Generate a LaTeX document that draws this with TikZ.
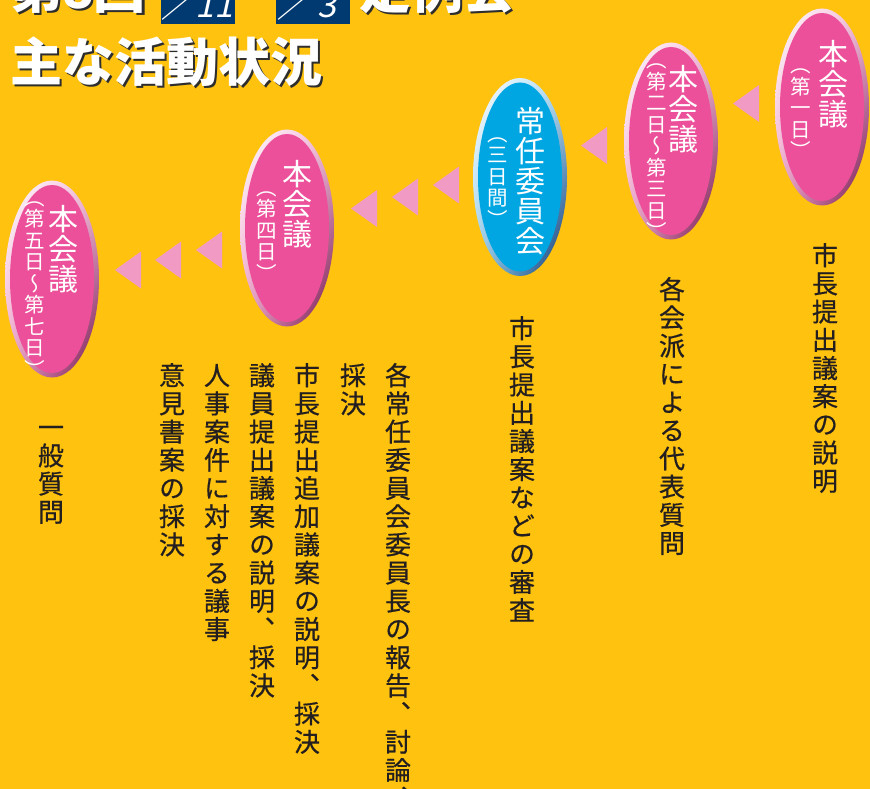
\documentclass[tikz,border=0pt]{standalone}
\usepackage{fontspec}
\usetikzlibrary{shadings}
\setmainfont{Noto Sans CJK JP}
\newfontfamily\jp{Noto Sans CJK JP}
\newfontfamily\jpv[RawFeature={+vert}]{Noto Sans CJK JP}
\newfontfamily\jpvb[RawFeature={+vert},FakeBold=0.6]{Noto Sans CJK JP}
\newfontfamily\jpsl[FakeSlant=0.22]{Noto Sans CJK JP}
\makeatletter
\newcommand\vcol[2]{\vbox{\baselineskip=#1\relax\lineskiplimit=-\maxdimen\lineskip=0pt
  \@tfor\vch:=#2\do{\hbox to 1em{\hss\vrule width 0pt height .88em depth .12em\vch\hss}}}}
\makeatother
\definecolor{bg}{RGB}{255,194,14}
\definecolor{txt}{RGB}{35,31,32}
\definecolor{navy}{RGB}{0,58,112}
\definecolor{shadowc}{RGB}{45,45,45}
\definecolor{pinkfill}{RGB}{236,80,154}
\definecolor{pinkhi}{RGB}{245,185,218}
\definecolor{pinklo}{RGB}{242,165,205}
\definecolor{pinkdk}{RGB}{115,20,75}
\definecolor{bluefill}{RGB}{0,166,226}
\definecolor{bluehi}{RGB}{175,222,246}
\definecolor{bluelo}{RGB}{150,210,240}
\definecolor{bluedk}{RGB}{10,55,115}
\definecolor{tric}{RGB}{241,155,196}
\tikzset{
  body/.style={inner sep=0pt, anchor=north, text=txt, font=\jpvb\fontsize{26}{26}\selectfont},
  big/.style={inner sep=0pt, anchor=north, text=white, font=\jpv\fontsize{30}{30}\selectfont},
  small/.style={inner sep=0pt, anchor=north, text=white, font=\jpv\fontsize{20.5}{20.5}\selectfont},
  title/.style={inner sep=0pt, anchor=base west, text=white, font=\jp\bfseries\fontsize{52}{52}\selectfont},
  titleshadow/.style={title, text=shadowc},
  datetext/.style={inner sep=0pt, anchor=base west, text=white, font=\jpsl\fontsize{34}{34}\selectfont},
  arrowtri/.style={fill=tric},
}
\newcommand\pinkoval[2]{%
  \shade[upper left=white, upper right=pinkhi, lower left=pinklo, lower right=pinkdk]
    (#1,#2) ellipse [x radius=47pt, y radius=98.5pt];
  \fill[pinkfill] (#1,#2) ellipse [x radius=42pt, y radius=94pt];}
\newcommand\blueoval[2]{%
  \shade[upper left=white, upper right=bluehi, lower left=bluelo, lower right=bluedk]
    (#1,#2) ellipse [x radius=47pt, y radius=99pt];
  \fill[bluefill] (#1,#2) ellipse [x radius=42pt, y radius=94.5pt];}
\newcommand\tri[2]{\fill[arrowtri] (#1,#2) -- ++(26,-18.5) -- ++(0,37) -- cycle;}
\begin{document}
\begin{tikzpicture}[x=1pt,y=-1pt]
\useasboundingbox (0,0) rectangle (870,789);
\clip (0,0) rectangle (870,789);
\fill[bg] (0,0) rectangle (870,789);

% title
\node[titleshadow] at (12.5,11) {第8回};
\node[title] (t1) at (10,8.5) {第8回};
\fill[navy] (161,-5) rectangle (235,24.5);
\fill[navy] (276,-5) rectangle (350,24.5);
\node[datetext] (d1) at (161,18) {／11};
\node[datetext] (d2) at (277,18) {／\kern6pt 3};
\node[titleshadow] at (361.5,11) {定例会};
\node[title] (t1b) at (359,8.5) {定例会};
\node[titleshadow] at (12.5,84) {主な活動状況};
\node[title] (t2) at (10,81.5) {主な活動状況};

% ovals
\pinkoval{822}{107}
\pinkoval{671}{141}
\blueoval{520}{177}
\pinkoval{287}{228}
\pinkoval{52}{279}

% oval texts
\node[big] (o1a) at (833,38.5) {\vcol{30pt}{本会議}};
\node[small] (o1b) at (801,54.5) {\vcol{21.5pt}{（第一日）}};
\node[big] (o2a) at (683,63.5) {\vcol{30pt}{本会議}};
\node[small] (o2b) at (657,49.5) {\vcol{21.5pt}{（第二日～第三日）}};
\node[big] (o3a) at (530,105.5) {\vcol{30pt}{常任委員会}};
\node[small] (o3b) at (498,123) {\vcol{21.5pt}{（三日間）}};
\node[big] (o4a) at (297,158.5) {\vcol{30pt}{本会議}};
\node[small] (o4b) at (267,177) {\vcol{21.5pt}{（第四日）}};
\node[big] (o5a) at (63,203.5) {\vcol{30pt}{本会議}};
\node[small] (o5b) at (35,187) {\vcol{21.5pt}{（第五日～第七日）}};

% triangles
\tri{733}{103.5}
\tri{581}{145.5}
\tri{433}{185}
\tri{392}{197}
\tri{351}{208.5}
\tri{196}{250}
\tri{155}{260}
\tri{115}{270}

% body texts
\node[body] (b1) at (825,242) {\vcol{28.2pt}{市長提出議案の説明}};
\node[body] (b2) at (672,276) {\vcol{28.2pt}{各会派による代表質問}};
\node[body] (b3) at (522,315) {\vcol{28.2pt}{市長提出議案などの審査}};
\node[body] (b4a) at (398,362) {\vcol{28.2pt}{各常任委員会委員長の報告、討論、}};
\node[body] (b4b) at (353,362) {\vcol{28.2pt}{採決}};
\node[body] (b4c) at (307,362) {\vcol{28.2pt}{市長提出追加議案の説明、採決}};
\node[body] (b4d) at (262,362) {\vcol{28.2pt}{議員提出議案の説明、採決}};
\node[body] (b4e) at (217,362) {\vcol{28.2pt}{人事案件に対する議事}};
\node[body] (b4f) at (172,362) {\vcol{28.2pt}{意見書案の採決}};
\node[body] (b5) at (51,414) {\vcol{28.2pt}{一般質問}};
\end{tikzpicture}
\end{document}
